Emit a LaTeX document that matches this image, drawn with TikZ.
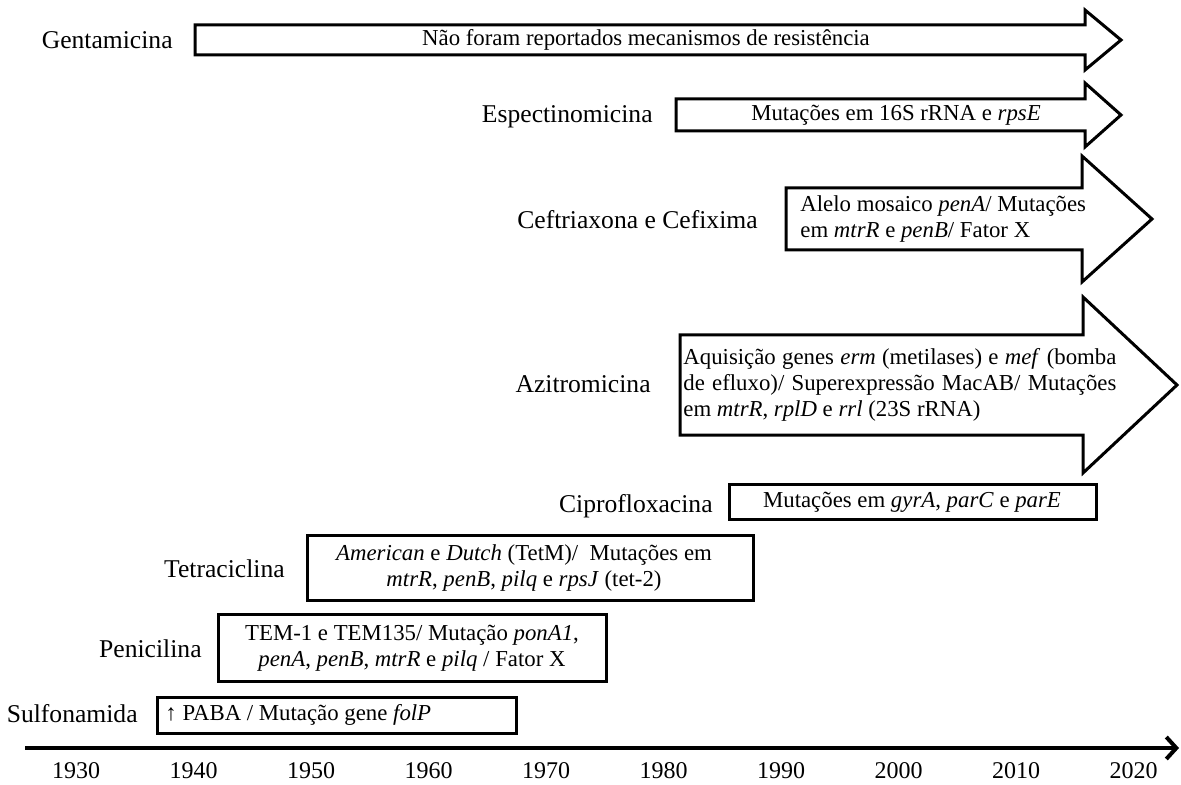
\documentclass[tikz,border=0pt]{standalone}
\usepackage{fontspec}
\setmainfont{Liberation Serif}
\usetikzlibrary{arrows.meta}

\tikzset{
  drug/.style={inner sep=0pt, font=\fontsize{12.8}{15}\selectfont},
  mech/.style={inner sep=0pt, font=\fontsize{11.4}{13.1}\selectfont},
  yearlbl/.style={inner sep=0pt, font=\fontsize{12}{14}\selectfont},
  frame/.style={draw=black, line width=1.5pt, fill=white, line join=miter},
  axisline/.style={line width=2pt, -{Straight Barb[length=5pt,width=11pt,line width=2pt]}},
}

% block arrow: start x, centre y, half shaft, head base x, half head, tip x
\newcommand{\resarrow}[6]{%
  \draw[frame] (#1,#2-#3) -- (#4,#2-#3) -- (#4,#2-#5) -- (#6,#2)
    -- (#4,#2+#5) -- (#4,#2+#3) -- (#1,#2+#3) -- cycle;
}

\begin{document}
\begin{tikzpicture}[x=0.5pt, y=-0.5pt]
  \useasboundingbox (0,0) rectangle (1181,785);

  % Gentamicina
  \resarrow{195}{40}{15}{1085}{30}{1121}
  \node[drug, anchor=base east] (genta) at (173,49) {Gentamicina};
  \node[mech] (gentatxt) at (646,40) {Não foram reportados mecanismos de resistência};

  % Espectinomicina
  \resarrow{676}{115}{16}{1085}{32}{1121}
  \node[drug, anchor=base east] (espec) at (653,123) {Espectinomicina};
  \node[mech] (espectxt) at (896,115) {Mutações em 16S rRNA e \textit{rpsE}};

  % Ceftriaxona e Cefixima
  \resarrow{786}{219}{31}{1082}{63}{1152}
  \node[drug, anchor=base east] (ceftr) at (758,229) {Ceftriaxona e Cefixima};
  \node[mech, anchor=west, align=left] (ceftrtxt) at (800,219)
    {Alelo mosaico \textit{penA}/ Mutações\\em \textit{mtrR} e \textit{penB}/ Fator X};

  % Azitromicina
  \resarrow{680}{385}{50}{1083}{88}{1177}
  \node[drug, anchor=base east] (azitr) at (651,393) {Azitromicina};
  \node[mech, anchor=west, align=left] (azitrtxt) at (683,385)
    {\makebox[216.5pt][s]{Aquisição genes \textit{erm} (metilases) e \textit{mef} (bomba}\\
     \makebox[216.5pt][s]{de efluxo)/ Superexpressão MacAB/ Mutações}\\
     em \textit{mtrR}, \textit{rplD} e \textit{rrl} (23S rRNA)};

  % Ciprofloxacina
  \draw[frame] (729,484) rectangle (1096,519);
  \node[drug, anchor=base east] (cipro) at (713,512) {Ciprofloxacina};
  \node[mech] (ciprotxt) at (912,502) {Mutações em \textit{gyrA}, \textit{parC} e \textit{parE}};

  % Tetraciclina
  \draw[frame] (307,535) rectangle (753,600);
  \node[drug, anchor=base east] (tetra) at (285,577) {Tetraciclina};
  \node[mech, align=center] (tetratxt) at (524,568)
    {\textit{American} e \textit{Dutch} (TetM)/\ \ Mutações em\\
     \textit{mtrR}, \textit{penB}, \textit{pilq} e \textit{rpsJ} (tet-2)};

  % Penicilina
  \draw[frame] (218,614) rectangle (606,681);
  \node[drug, anchor=base east] (penic) at (202,657) {Penicilina};
  \node[mech, align=center] (penictxt) at (412,648)
    {TEM-1 e TEM135/ Mutação \textit{ponA1},\\
     \textit{penA}, \textit{penB}, \textit{mtrR} e \textit{pilq} / Fator X};

  % Sulfonamida
  \draw[frame] (157,697) rectangle (516,733);
  \node[drug, anchor=base east] (sulfa) at (138,722) {Sulfonamida};
  \node[mech, anchor=west] (sulfatxt) at (165,715) {↑ PABA / Mutação gene \textit{folP}};

  % time axis
  \coordinate (T0) at (25,748);
  \coordinate (T1) at (1179,748);
  \draw[axisline] (T0) -- (T1);

  % years
  \pgfmathsetmacro{\dx}{117.5}
  \foreach \k [evaluate=\k as \yr using int(1930+10*\k)] in {0,...,9}
    \node[yearlbl] (yr\k) at ({76+\dx*\k},771) {\yr};

\end{tikzpicture}
\end{document}
